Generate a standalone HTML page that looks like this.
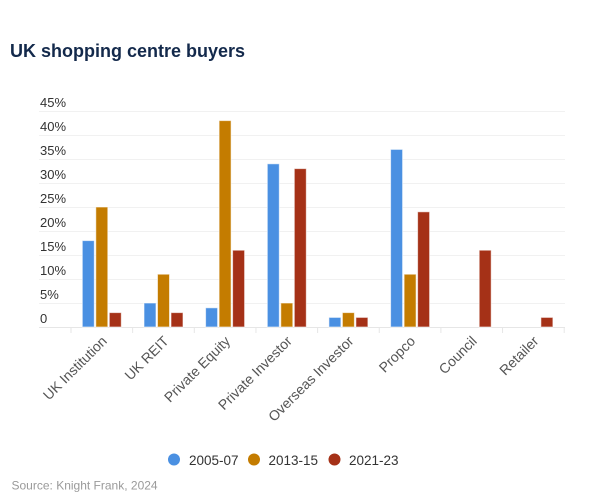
<!DOCTYPE html>
<html>
<head>
<meta charset="utf-8">
<style>
  html, body { margin: 0; padding: 0; background: #ffffff; }
  body { width: 602px; height: 503px; overflow: hidden; }
  svg { display: block; font-family: "Liberation Sans", "DejaVu Sans", sans-serif; }
</style>
</head>
<body>
<svg width="602" height="503" viewBox="0 0 602 503" xmlns="http://www.w3.org/2000/svg">
  <rect x="0" y="0" width="602" height="503" fill="#ffffff"/>
  <!-- Title -->
  <text x="10" y="57" font-size="18" font-weight="bold" fill="#13294b">UK shopping centre buyers</text>

  <!-- Gridlines -->
  <g stroke="#f1f1f1" stroke-width="1">
    <line x1="39" y1="111.5" x2="565" y2="111.5"/>
    <line x1="39" y1="135.5" x2="565" y2="135.5"/>
    <line x1="39" y1="159.5" x2="565" y2="159.5"/>
    <line x1="39" y1="183.5" x2="565" y2="183.5"/>
    <line x1="39" y1="207.5" x2="565" y2="207.5"/>
    <line x1="39" y1="231.5" x2="565" y2="231.5"/>
    <line x1="39" y1="255.5" x2="565" y2="255.5"/>
    <line x1="39" y1="279.5" x2="565" y2="279.5"/>
    <line x1="39" y1="303.5" x2="565" y2="303.5"/>
  </g>
  <line x1="39" y1="327.5" x2="565" y2="327.5" stroke="#e6e6e6" stroke-width="1"/>
  <!-- Ticks -->
  <g stroke="#e6e6e6" stroke-width="1">
    <line x1="71" y1="327" x2="71" y2="333"/>
    <line x1="132.65" y1="327" x2="132.65" y2="333"/>
    <line x1="194.3" y1="327" x2="194.3" y2="333"/>
    <line x1="255.95" y1="327" x2="255.95" y2="333"/>
    <line x1="317.6" y1="327" x2="317.6" y2="333"/>
    <line x1="379.25" y1="327" x2="379.25" y2="333"/>
    <line x1="440.9" y1="327" x2="440.9" y2="333"/>
    <line x1="502.55" y1="327" x2="502.55" y2="333"/>
    <line x1="564.2" y1="327" x2="564.2" y2="333"/>
  </g>

  <!-- Y labels -->
  <g font-size="13" fill="#333333">
    <text x="40" y="107">45%</text>
    <text x="40" y="131">40%</text>
    <text x="40" y="155">35%</text>
    <text x="40" y="179">30%</text>
    <text x="40" y="203">25%</text>
    <text x="40" y="227">20%</text>
    <text x="40" y="251">15%</text>
    <text x="40" y="275">10%</text>
    <text x="40" y="299">5%</text>
    <text x="40" y="323">0</text>
  </g>

  <!-- Bars -->
  <g stroke="#ffffff" stroke-width="1" stroke-opacity="0.6">
    <!-- 2005-07 blue -->
    <g fill="#4a90e2">
      <rect x="82.3" y="240.6" width="12" height="86.4"/>
      <rect x="144" y="303" width="12" height="24"/>
      <rect x="205.6" y="307.8" width="12" height="19.2"/>
      <rect x="267.3" y="163.8" width="12" height="163.2"/>
      <rect x="328.9" y="317.4" width="12" height="9.6"/>
      <rect x="390.6" y="149.4" width="12" height="177.6"/>
    </g>
    <!-- 2013-15 orange -->
    <g fill="#c47c00">
      <rect x="95.8" y="207" width="12" height="120"/>
      <rect x="157.5" y="274.2" width="12" height="52.8"/>
      <rect x="219.1" y="120.6" width="12" height="206.4"/>
      <rect x="280.8" y="303" width="12" height="24"/>
      <rect x="342.4" y="312.6" width="12" height="14.4"/>
      <rect x="404.1" y="274.2" width="12" height="52.8"/>
    </g>
    <!-- 2021-23 red -->
    <g fill="#a53117">
      <rect x="109.3" y="312.6" width="12" height="14.4"/>
      <rect x="171" y="312.6" width="12" height="14.4"/>
      <rect x="232.6" y="250.2" width="12" height="76.8"/>
      <rect x="294.3" y="168.6" width="12" height="158.4"/>
      <rect x="355.9" y="317.4" width="12" height="9.6"/>
      <rect x="417.6" y="211.8" width="12" height="115.2"/>
      <rect x="479.2" y="250.2" width="12" height="76.8"/>
      <rect x="540.9" y="317.4" width="12" height="9.6"/>
    </g>
  </g>

  <!-- X labels -->
  <g font-size="14" fill="#555555" text-anchor="end">
    <text transform="translate(107.8,342) rotate(-45)">UK Institution</text>
    <text transform="translate(169.5,342) rotate(-45)">UK REIT</text>
    <text transform="translate(231.1,342) rotate(-45)">Private Equity</text>
    <text transform="translate(292.8,342) rotate(-45)">Private Investor</text>
    <text transform="translate(354.4,342) rotate(-45)">Overseas Investor</text>
    <text transform="translate(416.1,342) rotate(-45)">Propco</text>
    <text transform="translate(477.7,342) rotate(-45)">Council</text>
    <text transform="translate(539.4,342) rotate(-45)">Retailer</text>
  </g>

  <!-- Legend -->
  <circle cx="174" cy="459.5" r="6" fill="#4a90e2"/>
  <circle cx="254" cy="459.5" r="6" fill="#c47c00"/>
  <circle cx="334.5" cy="459.5" r="6" fill="#a53117"/>
  <g font-size="13.5" fill="#333333">
    <text x="189" y="465">2005-07</text>
    <text x="268.5" y="465">2013-15</text>
    <text x="349" y="465">2021-23</text>
  </g>

  <!-- Source -->
  <text x="11.5" y="489.5" font-size="12" fill="#9a9a9a">Source: Knight Frank, 2024</text>
</svg>
</body>
</html>
